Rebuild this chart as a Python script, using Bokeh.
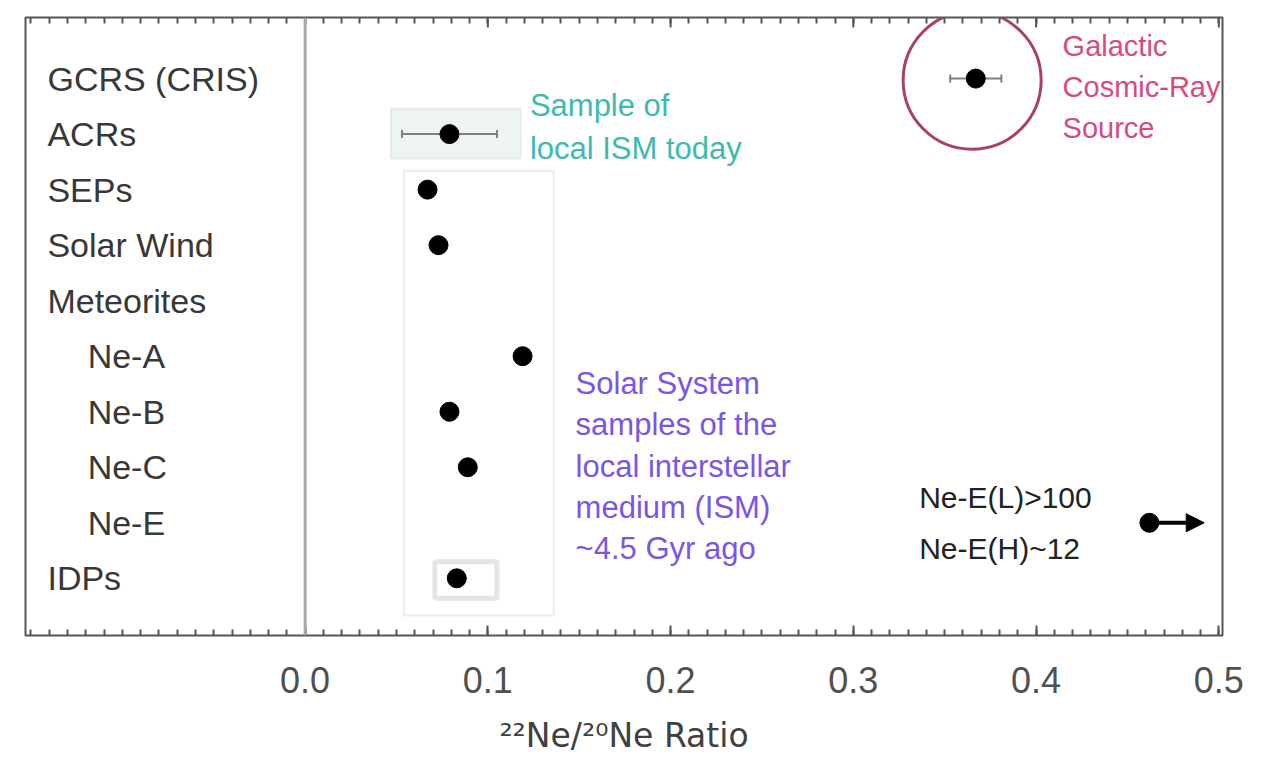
import numpy as np
from bokeh.plotting import figure
from bokeh.models import (Range1d, FixedTicker, LinearAxis, Span, Whisker, ColumnDataSource,
                          Arrow, NormalHead, TeeHead, BoxAnnotation, PrintfTickFormatter)
from bokeh.core.properties import value
from bokeh.embed import file_html
from bokeh.resources import INLINE

# ---- data ----
categories = ["GCRS (CRIS)", "ACRs", "SEPs", "Solar Wind", "Meteorites",
              "Ne-A", "Ne-B", "Ne-C", "Ne-E", "IDPs"]
ratio = [0.367, 0.079, 0.067, 0.073, None, 0.119, 0.079, 0.089, 0.462, 0.083]
ratio_err = [0.014, 0.026, 0.0, 0.0, 0.0, 0.0, 0.0, 0.0, 0.0, 0.0]
sub_items = ["Ne-A", "Ne-B", "Ne-C", "Ne-E"]
nee_limit = [0.462, 0.492]      # Ne-E lower limit (arrow)
idp_range = [0.071, 0.105]      # IDP range box
acr_range = [0.047, 0.118]      # ACR range box
ss_range = [0.054, 0.136]       # Solar System samples box
x_ticks = [0.0, 0.1, 0.2, 0.3, 0.4, 0.5]

note_ism_today = ["Sample of", "local ISM today"]
note_gcr = ["Galactic", "Cosmic-Ray", "Source"]
note_ss = ["Solar System", "samples of the", "local interstellar", "medium (ISM)", "~4.5 Gyr ago"]
note_nee = ["Ne-E(L)>100", "Ne-E(H)~12"]

FONT = "Liberation Sans"
rows = list(range(len(categories)))
row_of = {c: i for i, c in enumerate(categories)}

p = figure(width=1270, height=759, x_range=Range1d(-0.153, 0.502), y_range=Range1d(10.03, -1.10),
           output_backend="svg", toolbar_location=None, y_axis_location=None, x_axis_location=None,
           min_border_left=25, min_border_right=48, min_border_top=17, min_border_bottom=124)
p.grid.visible = False
p.outline_line_color = "#555555"
p.outline_line_width = 2
p.background_fill_color = "white"

minor = [round(v, 2) for v in np.arange(-0.15, 0.5001, 0.01)]

for loc in ("below", "above"):
    if loc == "below":
        ticker = FixedTicker(ticks=x_ticks, minor_ticks=minor)
    else:
        ticker = FixedTicker(ticks=[], minor_ticks=minor)
    ax = LinearAxis(ticker=ticker, formatter=PrintfTickFormatter(format="%.1f"))
    ax.axis_line_color = None
    ax.major_tick_in = 10
    ax.major_tick_out = 0
    ax.minor_tick_in = 6
    ax.minor_tick_out = 0
    ax.major_tick_line_color = "#555555"
    ax.minor_tick_line_color = "#555555"
    ax.major_tick_line_width = 2
    ax.minor_tick_line_width = 2
    if loc == "below":
        ax.major_label_text_font = FONT
        ax.major_label_text_font_size = "36px"
        ax.major_label_text_color = "#505050"
        ax.major_label_standoff = 31
        ax.axis_label = "²²Ne/²⁰Ne Ratio"
        ax.axis_label_text_font = "DejaVu Sans"
        ax.axis_label_text_font_size = "33px"
        ax.axis_label_text_font_style = "normal"
        ax.axis_label_text_color = "#404040"
        ax.axis_label_standoff = 20
    p.add_layout(ax, loc)

# top major ticks (drawn at the tick positions, reaching 10 px down from the top edge)
top = p.y_range.end
tick_len = 10 / 55.56
p.segment(x0=x_ticks, x1=x_ticks, y0=[top] * len(x_ticks), y1=[top + tick_len] * len(x_ticks),
          line_color="#555555", line_width=2)

# vertical separator at 0
p.add_layout(Span(location=0, dimension="height", line_color="#a8a8a8", line_width=3))

# boxes
p.add_layout(BoxAnnotation(left=acr_range[0], right=acr_range[1], top=0.54, bottom=1.44,
                           fill_color="#eef3f3", fill_alpha=1, line_color="#c4cccc", line_width=2,
                           level="underlay"))
p.add_layout(BoxAnnotation(left=ss_range[0], right=ss_range[1], top=1.66, bottom=9.67,
                           fill_color=None, fill_alpha=0, line_color="#c4c4c4", line_width=2,
                           level="underlay"))
p.add_layout(BoxAnnotation(left=idp_range[0], right=idp_range[1], top=row_of["IDPs"] - 0.3,
                           bottom=row_of["IDPs"] + 0.36,
                           fill_color="white", fill_alpha=1, line_color="#a8a8a8", line_width=5,
                           level="underlay"))

# category labels
lab_x = [-0.119 if c in sub_items else -0.141 for c in categories]
p.text(x=lab_x, y=rows, text=categories, text_font=value(FONT), text_font_size="34px",
       text_color="#383838", text_baseline="middle", text_align="left")

# error bars
err_rows = [i for i in rows if ratio[i] is not None and ratio_err[i] > 0]
esrc = ColumnDataSource(dict(y=err_rows,
                             lo=[ratio[i] - ratio_err[i] for i in err_rows],
                             hi=[ratio[i] + ratio_err[i] for i in err_rows]))
p.add_layout(Whisker(source=esrc, base="y", lower="lo", upper="hi", dimension="width",
                     line_color="#808080", line_width=2,
                     lower_head=TeeHead(size=8, line_color="#808080", line_width=2),
                     upper_head=TeeHead(size=8, line_color="#808080", line_width=2)))

# Ne-E lower limit arrow
ne = row_of["Ne-E"]
p.add_layout(Arrow(end=NormalHead(size=18, fill_color="black", line_color="black"),
                   x_start=nee_limit[0], y_start=ne, x_end=nee_limit[1], y_end=ne,
                   line_color="black", line_width=4))

# points
pt_rows = [i for i in rows if ratio[i] is not None]
p.scatter(x=[ratio[i] for i in pt_rows], y=pt_rows, size=19, color="black")

# circle around GCR source
g = row_of["GCRS (CRIS)"]
p.scatter(x=[ratio[g] - 0.002], y=[g + 0.03], size=138, fill_color=None,
          line_color="#a8406a", line_width=3)


def note(lines, x, y0, step, color, size):
    p.text(x=[x] * len(lines), y=[y0 + k * step for k in range(len(lines))], text=lines,
           text_font=value(FONT), text_font_size=size, text_color=color,
           text_baseline="middle", text_align="left")


note(note_ism_today, 0.123, 0.49, 0.77, "#3dbbb0", "31px")
note(note_gcr, 0.4145, -0.59, 0.74, "#d94a80", "29px")
note(note_ss, 0.148, 5.49, 0.745, "#7b55e6", "31px")
note(note_nee, 0.336, 7.54, 0.92, "#222222", "30px")

open("out.html", "w").write(file_html(p, INLINE))
